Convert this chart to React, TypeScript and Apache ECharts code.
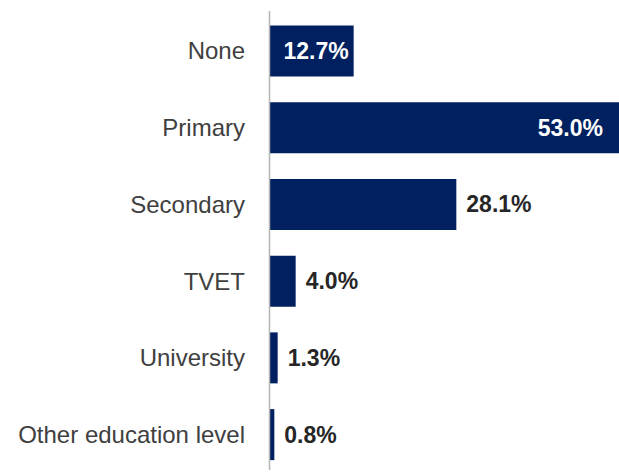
import React, { useEffect, useRef } from "react";
import * as echarts from "echarts";

const categories = ["None", "Primary", "Secondary", "TVET", "University", "Other education level"];
const values = [12.7, 53.0, 28.1, 4.0, 1.3, 0.8];
const insideLabels = [true, true, false, false, false, false];
const insideDistances = [5, 16, 0, 0, 0, 0];

const BAR_COLOR = "#002060";
const FONT = "'Liberation Sans', Arial, sans-serif";

export default function App() {
  const ref = useRef<HTMLDivElement>(null);

  useEffect(() => {
    if (!ref.current) return;
    const chart = echarts.init(ref.current, undefined, { renderer: "svg" });

    const data = values.map((v, i) => ({
      value: v,
      label: insideLabels[i]
        ? { position: "insideRight", distance: insideDistances[i], color: "#ffffff" }
        : { position: "right", distance: 10, color: "#262626" },
    }));

    chart.setOption({
      animation: false,
      backgroundColor: "#ffffff",
      grid: { left: 269, top: 12.5, right: 0, height: 468, containLabel: false },
      xAxis: {
        type: "value",
        min: 0,
        max: 52.5,
        show: false,
      },
      yAxis: {
        type: "category",
        data: categories,
        inverse: true,
        axisLine: { show: false },
        axisTick: { show: false },
        axisLabel: {
          margin: 24,
          color: "#404040",
          fontFamily: FONT,
          fontSize: 24,
        },
      },
      series: [
        {
          type: "bar",
          data,
          barWidth: 51,
          clip: true,
          itemStyle: { color: BAR_COLOR },
          label: {
            show: true,
            fontFamily: FONT,
            fontSize: 23,
            fontWeight: "bold",
            formatter: (p: any) => Number(p.value).toFixed(1) + "%",
          },
        },
      ],
      graphic: [
        {
          type: "line",
          shape: { x1: 269.5, y1: 11, x2: 269.5, y2: 470 },
          style: { stroke: "#b4b4b4", lineWidth: 1.5 },
          z: 10,
        },
      ],
    });

    return () => chart.dispose();
  }, []);

  return (
    <div
      ref={ref}
      style={{ position: "fixed", left: 0, top: 0, width: 619, height: 473 }}
    />
  );
}
